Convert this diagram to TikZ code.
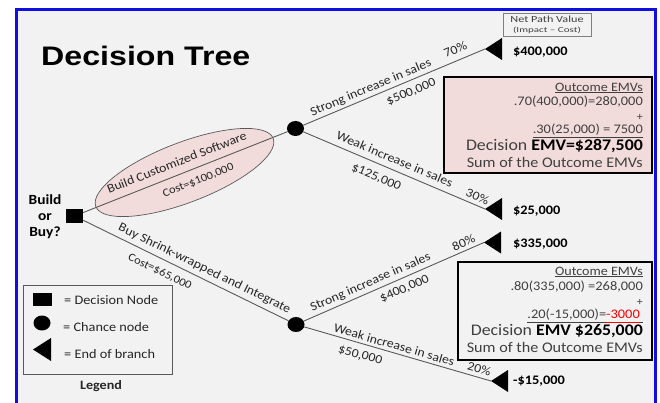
\documentclass[tikz,border=0pt]{standalone}
\usepackage{fontspec}
\setmainfont{Carlito}[FakeStretch=1.1]
\newfontfamily\titlefont{Liberation Sans}[FakeStretch=1.2]
\newfontfamily\npvA{Carlito}[FakeStretch=1.3]
\newfontfamily\npvB{Carlito}[FakeStretch=1.45]
\usetikzlibrary{shapes.geometric}
\definecolor{bg}{HTML}{F2F2F2}
\definecolor{pinkfill}{HTML}{F2DCDB}
\definecolor{frameblue}{RGB}{15,15,225}
\definecolor{linegray}{HTML}{595959}
\definecolor{txt}{HTML}{262626}
\definecolor{boxtxt}{HTML}{404040}
\begin{document}
\begin{tikzpicture}[x=1pt,y=-1pt,
  lbl/.style={font=\fontsize{12.5}{15}\selectfont, text=txt, inner sep=0pt, sloped},
  costlbl/.style={font=\fontsize{11.3}{14}\selectfont, text=txt, inner sep=0pt, sloped},
  ab/.style={above=#1, anchor=base},
  be/.style={below=#1},
  val/.style={font=\fontsize{13}{15}\selectfont\bfseries, anchor=west, inner sep=0pt},
  chance/.style={ellipse, fill=black, minimum width=17pt, minimum height=15pt, inner sep=0pt},
  decision/.style={rectangle, fill=black, inner sep=0pt},
  branch/.style={draw=linegray, line width=0.9pt},
  emvbox/.style={draw=black, line width=2.5pt, inner sep=0pt},
  emvtxt/.style={anchor=east, inner sep=0pt, text=boxtxt},
  legtxt/.style={anchor=west, inner sep=0pt, text=txt, font=\fontsize{13}{15}\selectfont}
]
\useasboundingbox (0,0) rectangle (660,403);
\fill[white] (0,0) rectangle (660,403);
\fill[bg] (16,10) rectangle (655,410);
\draw[frameblue, line width=3pt] (16,410) -- (16,10) -- (655,10) -- (655,410);

% title
\node[anchor=base west, inner sep=0pt, font=\titlefont\fontsize{26.8}{30}\selectfont\bfseries] (title) at (41,66) {Decision Tree};

% option ellipse
\node[ellipse, draw=linegray, line width=0.7pt, fill=pinkfill, minimum width=190pt, minimum height=60pt, rotate=21, inner sep=0pt] (opt1) at (184.5,172.5) {};

% nodes
\node[decision, minimum width=17pt, minimum height=14pt] (dec) at (74.5,216) {};
\node[chance] (c1) at (295.5,128.5) {};
\node[chance] (c2) at (296,324.5) {};
\coordinate (t1) at (485,49);
\coordinate (t2) at (485,209);
\coordinate (t3) at (484,242.5);
\coordinate (t4) at (491,381);
\foreach \t in {t1,t2,t3,t4} \fill (\t) -- ++(17,-11) -- ++(0,22) -- cycle;

\node[inner sep=0pt, align=center, font=\fontsize{14}{16}\selectfont\bfseries] (bob) at (45,217) {Build\\or\\Buy?};

% branches
\draw[branch] (dec) -- (c1)
  node[lbl, pos=0.48, ab=8pt] (l1) {Build Customized Software}
  node[costlbl, pos=0.54, be=8pt] (l2) {Cost=\$100,000};
\draw[branch] (dec) -- (c2)
  node[lbl, pos=0.57, ab=6.5pt] (l3) {Buy Shrink-wrapped and Integrate}
  node[costlbl, pos=0.40, be=7.5pt] (l4) {Cost=\$65,000};
\draw[branch] (c1) -- (t1)
  node[lbl, pos=0.39, ab=5pt] (l5) {Strong increase in sales}
  node[lbl, pos=0.57, be=6pt] (l6) {\$500,000}
  node[lbl, pos=0.86, ab=7pt] (l7) {70\%};
\draw[branch] (c1) -- (t2)
  node[lbl, pos=0.48, ab=6.5pt] (l8) {Weak increase in sales}
  node[lbl, pos=0.43, be=8pt] (l9) {\$125,000}
  node[lbl, pos=0.94, ab=4.5pt] (l10) {30\%};
\draw[branch] (c2) -- (t3)
  node[lbl, pos=0.39, ab=5.5pt] (l11) {Strong increase in sales}
  node[lbl, pos=0.535, be=5.5pt] (l12) {\$400,000}
  node[lbl, pos=0.905, ab=4pt] (l13) {80\%};
\draw[branch] (c2) -- (t4)
  node[lbl, pos=0.47, ab=3.5pt] (l14) {Weak increase in sales}
  node[lbl, pos=0.317, be=6.5pt] (l15) {\$50,000}
  node[lbl, pos=0.925, ab=4pt] (l16) {20\%};

% values
\node[val] (v1) at (513,52) {\$400,000};
\node[val] (v2) at (513,211) {\$25,000};
\node[val] (v3) at (513,244) {\$335,000};
\node[val] (v4) at (513,381.5) {-\$15,000};

% net path value box
\node[draw=gray, line width=0.6pt, minimum width=88pt, minimum height=23pt, inner sep=0pt] (npv) at (547,24.5) {};
\node[inner sep=0pt, text=boxtxt, font=\npvA\fontsize{9.4}{11}\selectfont] (npv1) at (547,19) {Net Path Value};
\node[inner sep=0pt, text=boxtxt, font=\npvB\fontsize{7.6}{9}\selectfont] (npv2) at (547,30.5) {(Impact – Cost)};

% EMV box 1
\node[emvbox, fill=pinkfill, minimum width=208pt, minimum height=96pt] (emv1) at (548,125) {};
\node[emvtxt, font=\fontsize{12.8}{15}\selectfont] (e1a) at (643,88) {\underline{Outcome EMVs}};
\node[emvtxt, font=\fontsize{13.1}{15}\selectfont] (e1b) at (643,102) {.70(400,000)=280,000};
\node[emvtxt, font=\fontsize{11}{13}\selectfont] (e1c) at (643,117.5) {+};
\node[emvtxt, font=\fontsize{13.1}{15}\selectfont] (e1d) at (643,131) {\underline{.30(25,000) = 7500}};
\node[emvtxt, font=\fontsize{16.2}{19}\selectfont] (e1e) at (643,146) {Decision \textcolor{black}{\bfseries EMV=\$287,500}};
\node[emvtxt, font=\fontsize{14.7}{17}\selectfont] (e1f) at (643,162) {Sum of the Outcome EMVs};

% EMV box 2
\node[emvbox, fill=bg, minimum width=194pt, minimum height=98pt] (emv2) at (555,311) {};
\node[emvtxt, font=\fontsize{12.8}{15}\selectfont] (e2a) at (643,272) {\underline{Outcome EMVs}};
\node[emvtxt, font=\fontsize{13.1}{15}\selectfont] (e2b) at (643,287) {.80(335,000) =268,000};
\node[emvtxt, font=\fontsize{11}{13}\selectfont] (e2c) at (643,302) {+};
\node[emvtxt, font=\fontsize{13.1}{15}\selectfont] (e2d) at (643,316) {\underline{\vphantom{(),}.20(-15,000)=}\textcolor{red}{\underline{\vphantom{(),}-3000}}\underline{\vphantom{(),}\hbox to 3pt{}}};
\node[emvtxt, font=\fontsize{16.2}{19}\selectfont] (e2e) at (643,331) {Decision \textcolor{black}{\bfseries EMV \$265,000}};
\node[emvtxt, font=\fontsize{14.7}{17}\selectfont] (e2f) at (643,347) {Sum of the Outcome EMVs};

% legend
\node[draw=linegray, line width=0.8pt, minimum width=149pt, minimum height=89pt, inner sep=0pt] (legend) at (97.5,329.5) {};
\node[decision, minimum width=19pt, minimum height=13pt] (lsq) at (42.5,299.5) {};
\node[chance] (lci) at (42,323) {};
\coordinate (ltri) at (33,349.5);
\fill (ltri) -- ++(18,-11.5) -- ++(0,23) -- cycle;
\node[legtxt] (lt1) at (64,300) {= Decision Node};
\node[legtxt] (lt2) at (63,327) {= Chance node};
\node[legtxt] (lt3) at (64,354) {= End of branch};
\node[inner sep=0pt, text=txt, font=\fontsize{12.8}{15}\selectfont\bfseries] (legtitle) at (101,386) {Legend};
\end{tikzpicture}
\end{document}
